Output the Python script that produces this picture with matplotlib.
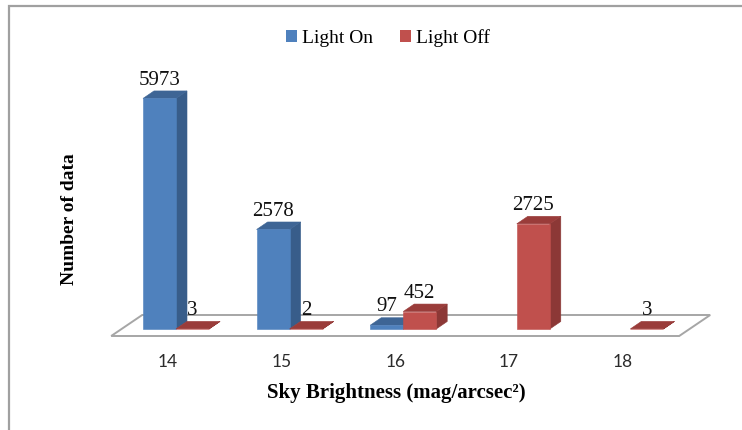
import matplotlib
matplotlib.use("Agg")
import matplotlib.pyplot as plt
from matplotlib.patches import Polygon, Rectangle, Patch

# data
categories = ["14", "15", "16", "17", "18"]
light_on = [5973, 2578, 97, None, None]
light_off = [3, 2, 452, 2725, 3]

on_colors = ("#4F81BD", "#385D8A", "#3E6595")    # front, side, top
off_colors = ("#C0504D", "#8C3836", "#9A3C3A")

# layout (pixel based, figure is 742 x 430 at dpi 100)
W, H = 742, 430
PX_CAT = 113.6          # pixels per category
PX_VAL = 0.0386         # pixels per unit of count
X0_PX = 168             # pixel x of first category
BASE_PX = 329           # pixel y (from top) of bar bases

BAR_W = 33 / PX_CAT
SHIFT = 8 / PX_CAT
BAR_DX, BAR_DY = 11 / PX_CAT, 7.5 / PX_VAL
FLOOR_DX, FLOOR_DY = 31 / PX_CAT, 21 / PX_VAL
FLOOR_FRONT = -7 / PX_VAL

plt.rcParams["font.family"] = ["Liberation Serif", "DejaVu Serif"]

fig = plt.figure(figsize=(W / 100, H / 100), dpi=100)
ax = fig.add_axes([0, 0, 1, 1])
ax.set_xlim(-X0_PX / PX_CAT, (W - X0_PX) / PX_CAT)
ax.set_ylim(-(H - BASE_PX) / PX_VAL, BASE_PX / PX_VAL)
ax.axis("off")

# chart border (only top and left visible)
fig.add_artist(Rectangle((9 / W, -0.1), 1.2, 1.1 - 6 / H, transform=fig.transFigure,
                         fill=False, edgecolor="#A0A0A0", linewidth=1.6))

# floor
n = len(categories)
fl, fr = -0.5, n - 0.5
ax.add_patch(Polygon([(fl, FLOOR_FRONT), (fr, FLOOR_FRONT),
                      (fr + FLOOR_DX, FLOOR_FRONT + FLOOR_DY),
                      (fl + FLOOR_DX, FLOOR_FRONT + FLOOR_DY)],
                     closed=True, facecolor="white", edgecolor="#A6A6A6",
                     linewidth=1.4, zorder=1))


def bar3d(x0, v, colors):
    front, side, top = colors
    x1 = x0 + BAR_W
    kw = dict(closed=True, linewidth=0.4, zorder=2)
    ax.add_patch(Polygon([(x1, 0), (x1 + BAR_DX, BAR_DY), (x1 + BAR_DX, v + BAR_DY), (x1, v)],
                         facecolor=side, edgecolor=side, **kw))
    ax.add_patch(Polygon([(x0, v), (x0 + BAR_DX, v + BAR_DY), (x1 + BAR_DX, v + BAR_DY), (x1, v)],
                         facecolor=top, edgecolor=top, **kw))
    ax.add_patch(Polygon([(x0, 0), (x1, 0), (x1, v), (x0, v)],
                         facecolor=front, edgecolor=front, **kw))
    ax.annotate(str(v), xy=(x0 + BAR_W / 2, v), xytext=(0, 10), textcoords="offset points",
                ha="center", va="baseline", fontsize=15, color="#111111", zorder=5)


for i in range(n):
    if light_on[i] is not None:
        bar3d(i + SHIFT - BAR_W, light_on[i], on_colors)
    if light_off[i] is not None:
        bar3d(i + SHIFT, light_off[i], off_colors)
    ax.annotate(categories[i], xy=(i, FLOOR_FRONT), xytext=(0, -19), textcoords="offset points",
                ha="center", va="center", fontsize=12.5, family=["Lato", "DejaVu Sans"],
                color="#2b2b2b")

fig.text(396 / W, 1 - 393 / H, "Sky Brightness (mag/arcsec²)", ha="center", va="center",
         fontsize=15, fontweight="bold")
fig.text(69 / W, 1 - 219 / H, "Number of data", ha="center", va="center",
         rotation=90, fontsize=14, fontweight="bold")

handles = [Patch(facecolor=on_colors[0], label="Light On"),
           Patch(facecolor=off_colors[0], label="Light Off")]
fig.legend(handles=handles, loc="center", bbox_to_anchor=(388 / W, 1 - 38 / H), ncol=2,
           frameon=False, fontsize=14, handlelength=0.55, handleheight=0.55,
           handletextpad=0.25, columnspacing=1.4)

fig.savefig("out.png", dpi=100)
